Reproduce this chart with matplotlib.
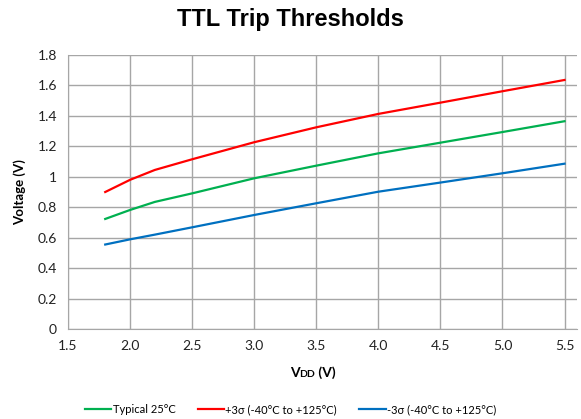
import numpy as np
import matplotlib.pyplot as plt

# data
vdd = [1.8, 2.0, 2.2, 2.5, 3.0, 3.5, 4.0, 4.5, 5.0, 5.5]
typical = [0.723, 0.782, 0.835, 0.891, 0.99, 1.073, 1.154, 1.224, 1.294, 1.365]
plus3 = [0.90, 0.98, 1.045, 1.115, 1.227, 1.325, 1.413, 1.487, 1.562, 1.636]
minus3 = [0.555, 0.589, 0.62, 0.668, 0.749, 0.826, 0.902, 0.962, 1.023, 1.086]

labels = ['Typical 25°C', '+3σ (-40°C to +125°C)', '-3σ (-40°C to +125°C)']
colors = ['#00B050', '#FF0000', '#0070C0']

plt.rcParams['font.family'] = ['Lato', 'DejaVu Sans']

fig = plt.figure(figsize=(5.81, 4.19), dpi=100)
ax = fig.add_axes([0.117, 0.2148, 0.876, 0.6539])

for ys, lab, c in zip([typical, plus3, minus3], labels, colors):
    ax.plot(vdd, ys, color=c, lw=1.6, label=lab)

ax.set_xlim(1.5, 5.6)
ax.set_ylim(0, 1.8)
ax.set_xticks(np.arange(1.5, 5.51, 0.5))
ax.set_xticklabels(['%.1f' % v for v in np.arange(1.5, 5.51, 0.5)])
ax.set_yticks(np.arange(0, 1.81, 0.2))
ax.set_yticklabels(['0', '0.2', '0.4', '0.6', '0.8', '1', '1.2', '1.4', '1.6', '1.8'])
ax.tick_params(length=0, labelsize=10, colors='#222222', pad=8)
ax.grid(True, color='#a6a6a6', lw=1)
ax.set_axisbelow(True)
for s in ['top', 'right']:
    ax.spines[s].set_visible(False)
for s in ['left', 'bottom']:
    ax.spines[s].set_color('#a6a6a6')

ax.set_ylabel('Voltage (V)', fontsize=9.5, fontweight='bold', labelpad=8)

# x label "VDD (V)" with small-caps DD
t1 = fig.text(0.515, 0.1, 'V', fontsize=10, fontweight='bold', ha='right', va='baseline')
t2 = ax.annotate('DD', xy=(1, 0), xycoords=t1, fontsize=7.5, fontweight='bold',
                 ha='left', va='bottom')
ax.annotate(' (V)', xy=(1, 0), xycoords=t2, fontsize=10, fontweight='bold',
            ha='left', va='bottom')

fig.suptitle('TTL Trip Thresholds', fontsize=17, fontweight='bold',
             family='Liberation Sans', y=0.98)

fig.legend(loc='lower center', ncol=3, frameon=False, fontsize=8,
           bbox_to_anchor=(0.5, -0.015), handlelength=2.4, columnspacing=2.0,
           handletextpad=0.1)

fig.savefig('out.png', dpi=100)
